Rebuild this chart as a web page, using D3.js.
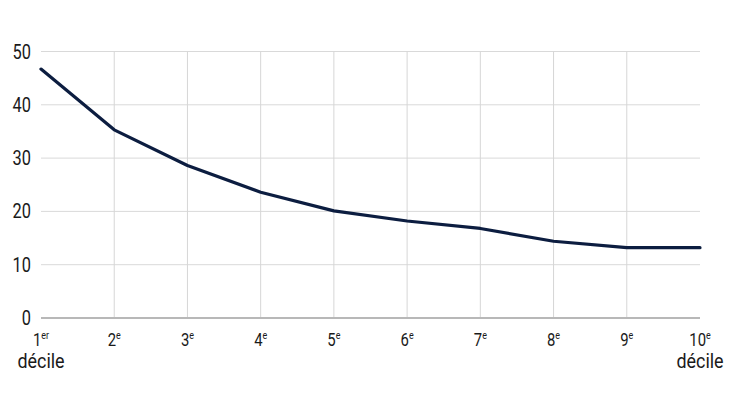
<!DOCTYPE html>
<html><head><meta charset="utf-8">
<script src="https://cdn.jsdelivr.net/npm/d3@7"></script>
<style>
body{margin:0;background:#fff;}
text{font-family:"Roboto","Liberation Sans",sans-serif;fill:#1a1a1a;}
</style></head>
<body><svg id="c" width="730" height="410"></svg>
<script>
const deciles = [1,2,3,4,5,6,7,8,9,10];
const suffixes = ["er","e","e","e","e","e","e","e","e","e"];
const values = [46.7, 35.3, 28.6, 23.6, 20.1, 18.2, 16.8, 14.4, 13.2, 13.2];
const yTicks = [0,10,20,30,40,50];

const svg = d3.select("#c");
const x = d3.scaleLinear().domain([1,10]).range([41,700]);
const y = d3.scaleLinear().domain([0,50]).range([318,51.5]);

// horizontal grid
svg.append("g").selectAll("line").data(yTicks.filter(d=>d>0)).join("line")
  .attr("x1",41).attr("x2",700).attr("y1",d=>y(d)).attr("y2",d=>y(d))
  .attr("stroke","#d9d9d9").attr("stroke-width",1);
// vertical grid
svg.append("g").selectAll("line").data(deciles.slice(1,9)).join("line")
  .attr("x1",d=>x(d)).attr("x2",d=>x(d)).attr("y1",y(50)).attr("y2",y(0))
  .attr("stroke","#d6d6d6").attr("stroke-width",1);
// zero line
svg.append("line").attr("x1",41).attr("x2",700).attr("y1",y(0)).attr("y2",y(0))
  .attr("stroke","#b8b8b8").attr("stroke-width",2);

// y labels
svg.append("g").selectAll("text").data(yTicks).join("text")
  .attr("transform",d=>`translate(31,${y(d)+7}) scale(0.82,1)`)
  .attr("text-anchor","end").attr("font-size",20).text(d=>d);

// x labels
const xl = svg.append("g").selectAll("text").data(deciles).join("text")
  .attr("transform",d=>`translate(${x(d)},345.5) scale(0.85,1)`)
  .attr("text-anchor","middle").attr("font-size",17.5);
xl.append("tspan").text(d=>d);
xl.append("tspan").attr("font-size",10.5).attr("dy",-7).text((d,i)=>suffixes[i]);

[1,10].forEach(d=>{
  svg.append("text").attr("transform",`translate(${x(d)},368) scale(0.92,1)`)
    .attr("text-anchor","middle").attr("font-size",19.5).text("décile");
});

// line
const line = d3.line().x((d,i)=>x(deciles[i])).y(d=>y(d)).curve(d3.curveLinear);
svg.append("path").datum(values).attr("d",line).attr("fill","none")
  .attr("stroke","#0c1d40").attr("stroke-width",3.2).attr("stroke-linejoin","round").attr("stroke-linecap","round");
</script></body></html>
